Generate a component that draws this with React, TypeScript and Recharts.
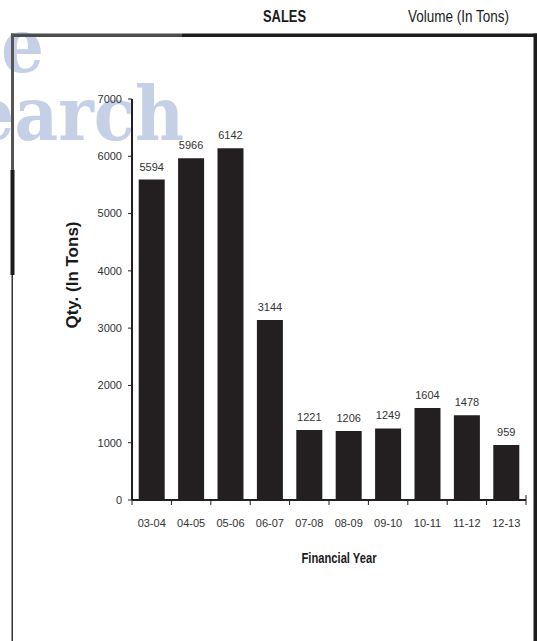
import React from "react";
import { BarChart, Bar, XAxis, YAxis, LabelList, Label } from "recharts";

// sales volume per financial year, in tons
const years = ["03-04", "04-05", "05-06", "06-07", "07-08", "08-09", "09-10", "10-11", "11-12", "12-13"];
const volumes = [5594, 5966, 6142, 3144, 1221, 1206, 1249, 1604, 1478, 959];
const qtyTicks = [0, 1000, 2000, 3000, 4000, 5000, 6000, 7000];

const data = years.map((year, i) => ({ year, qty: volumes[i] }));

const WIDTH = 537;
const HEIGHT = 641;
const margin = { top: 99, right: 11, bottom: 101, left: 0 };
const Y_AXIS_WIDTH = 132;
const X_TICK_SIZE = 5;
const X_TICK_MARGIN = 14;
const band = (WIDTH - margin.left - margin.right - Y_AXIS_WIDTH) / years.length;

const sansFont = "'Liberation Sans', Arial, sans-serif";
const ink = "#231f20";

// excel style: tick marks sit between categories, labels in the middle
function YearTick(props: any) {
  const { x, y, payload } = props;
  const axisY = y - X_TICK_SIZE - X_TICK_MARGIN;
  const isLast = payload.value === years[years.length - 1];
  return (
    <g>
      <line x1={x - band / 2} x2={x - band / 2} y1={axisY} y2={axisY + X_TICK_SIZE} stroke={ink} strokeWidth={1} />
      {isLast && (
        <line x1={x + band / 2} x2={x + band / 2} y1={axisY - 5} y2={axisY + X_TICK_SIZE} stroke={ink} strokeWidth={1} />
      )}
      <text x={x} y={y} dy="0.71em" textAnchor="middle" fontSize={11} fill="#333" fontFamily={sansFont}>
        {payload.value}
      </text>
    </g>
  );
}

function Backdrop() {
  return (
    <svg width={WIDTH} height={HEIGHT} style={{ position: "absolute", left: 0, top: 0 }}>
      <g
        fill="#c5d0e7"
        fontFamily="'DejaVu Serif Condensed', 'DejaVu Serif', serif"
        fontWeight="bold"
        fontSize={75}
      >
        <text x={50} y={72} textAnchor="end" letterSpacing={6}>Value</text>
        <text x={184} y={140} textAnchor="end">Research</text>
      </g>
      {/* frame */}
      <rect x={11} y={33.5} width={171} height={3.5} fill="#4d4d4d" />
      <rect x={182} y={33.5} width={355} height={3.5} fill="#1c1c1c" />
      <rect x={11} y={33.5} width={3} height={137} fill="#555" />
      <rect x={10.5} y={170} width={4} height={105} fill="#1c1c1c" />
      <rect x={11.5} y={275} width={1.5} height={366} fill="#333" />
      <rect x={533.5} y={33.5} width={3.5} height={608} fill="#1c1c1c" />
      <text x={263} y={22} textLength={43} lengthAdjust="spacingAndGlyphs" fontFamily={sansFont} fontWeight="bold" fontSize={16} fill="#1a1a1a">
        SALES
      </text>
      <text x={408} y={22} textLength={101} lengthAdjust="spacingAndGlyphs" fontFamily={sansFont} fontSize={16} fill="#1a1a1a">
        Volume (In Tons)
      </text>
    </svg>
  );
}

export default function App() {
  return (
    <div style={{ position: "absolute", left: 0, top: 0, width: WIDTH, height: HEIGHT, background: "#fff" }}>
      <Backdrop />
      <div style={{ position: "absolute", left: 0, top: 0 }}>
        <BarChart width={WIDTH} height={HEIGHT} data={data} margin={margin} barCategoryGap="17%">
          <XAxis
            dataKey="year"
            axisLine={{ stroke: ink, strokeWidth: 2 }}
            tickLine={false}
            tickSize={X_TICK_SIZE}
            tickMargin={X_TICK_MARGIN}
            tick={<YearTick />}
            interval={0}
            height={40}
          >
            <Label
              content={({ viewBox }: any) => (
                <text
                  x={viewBox.x + viewBox.width / 2 + 10}
                  y={563}
                  textAnchor="middle"
                  textLength={75}
                  lengthAdjust="spacingAndGlyphs"
                  fontFamily={sansFont}
                  fontWeight="bold"
                  fontSize={15}
                  fill="#1a1a1a"
                >
                  Financial Year
                </text>
              )}
            />
          </XAxis>
          <YAxis
            width={Y_AXIS_WIDTH}
            domain={[0, 7000]}
            ticks={qtyTicks}
            interval={0}
            axisLine={{ stroke: ink, strokeWidth: 2 }}
            tickLine={{ stroke: ink }}
            tickSize={4}
            tickMargin={6}
            tick={{ fontSize: 11, fill: "#333", fontFamily: sansFont }}
          >
            <Label
              content={() => (
                <text
                  transform="translate(72, 275) rotate(-90)"
                  textAnchor="middle"
                  dominantBaseline="central"
                  fontFamily={sansFont}
                  fontWeight="bold"
                  fontSize={17}
                  fill="#1a1a1a"
                >
                  Qty. (In Tons)
                </text>
              )}
            />
          </YAxis>
          <Bar dataKey="qty" fill={ink} isAnimationActive={false}>
            <LabelList dataKey="qty" position="top" offset={9} fontSize={11} fill="#333" fontFamily={sansFont} />
          </Bar>
        </BarChart>
      </div>
    </div>
  );
}
